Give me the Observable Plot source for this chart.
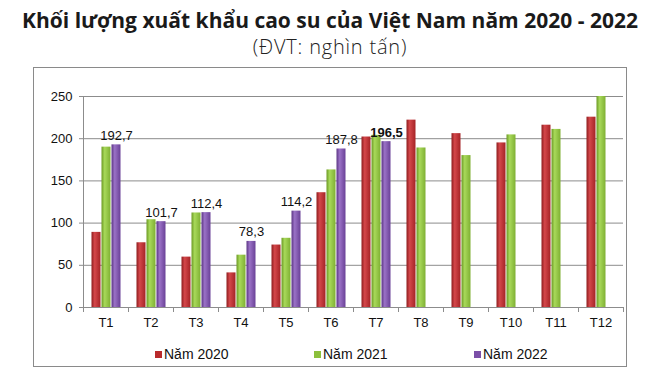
<!DOCTYPE html>
<html>
<head>
<meta charset="utf-8">
<script src="https://cdn.jsdelivr.net/npm/d3@7"></script>
<script src="https://cdn.jsdelivr.net/npm/@observablehq/plot@0.6"></script>
<style>
  html, body { margin: 0; padding: 0; background: #fff; }
  #page { position: relative; width: 660px; height: 371px; overflow: hidden; }
  #title { position: absolute; left: 0; top: 7px; width: 660px; text-align: center;
    font-family: "Open Sans", sans-serif; font-weight: 700; font-size: 21px; color: #1a1a1a; line-height: 26px; }
  #subtitle { position: absolute; left: 0; top: 34px; width: 660px; text-align: center;
    font-family: "Open Sans", sans-serif; font-weight: 300; font-size: 20px; letter-spacing: 0.8px; color: #222; line-height: 26px; }
  #box { position: absolute; left: 33px; top: 67px; width: 592px; height: 298px; border: 1px solid #8a8a8a; }
  #chart { position: absolute; left: 0; top: 0; }
  #legend { position: absolute; top: 278px; left: 0; width: 592px; height: 18px;
    font-family: "Liberation Sans", Arial, sans-serif; font-size: 14px; color: #111; }
  .item { position: absolute; top: 0; display: flex; align-items: center; white-space: nowrap; }
  .sw { width: 7px; height: 7px; margin-right: 2px; }
</style>
</head>
<body>
<div id="page">
  <div id="title">Khối lượng xuất khẩu cao su của Việt Nam năm 2020 - 2022</div>
  <div id="subtitle">(ĐVT: nghìn tấn)</div>
  <div id="box">
    <div id="chart"></div>
    <div id="legend"></div>
  </div>
</div>
<script>
const months = ["T1","T2","T3","T4","T5","T6","T7","T8","T9","T10","T11","T12"];
const years = ["Năm 2020","Năm 2021","Năm 2022"];
const v2020 = [89, 76.7, 59.7, 41, 74, 136, 202, 222, 206, 195, 216, 225.5];
const v2021 = [190, 104, 112, 62, 82, 163, 204, 189, 180, 204.5, 211, 250];
const v2022 = [192.7, 101.7, 112.4, 78.3, 114.2, 187.8, 196.5];
const yTicks = [0, 50, 100, 150, 200, 250];
const highlightMonth = "T7";

const colors = ["#b92a2c", "#8cc03c", "#7b4fa8"];
const gradIds = ["gRed", "gGreen", "gPurple"];

const data = [];
[v2020, v2021, v2022].forEach((arr, i) => {
  arr.forEach((v, j) => data.push({month: months[j], year: years[i], value: v}));
});
const labels = data.filter(d => d.year === years[2]);
const fmt = v => String(v).replace(".", ",");

const font = '"Liberation Sans", Arial, sans-serif';

const plot = Plot.plot({
  width: 592,
  height: 269,
  marginLeft: 46,
  marginRight: 1,
  marginTop: 28,
  marginBottom: 30,
  style: {fontFamily: font, fontSize: "13px", color: "#111", background: "transparent"},
  fx: {domain: months, paddingInner: 0, paddingOuter: 0, label: null, axis: null},
  x: {domain: years, paddingInner: 0, paddingOuter: 0.7, axis: null},
  y: {domain: [0, 250], axis: null},
  color: {domain: years, range: gradIds.map(id => `url(#${id})`)},
  marks: [
    Plot.ruleY(yTicks, {stroke: "#8c8c8c", strokeWidth: 1}),
    Plot.barY(data, {fx: "month", x: "year", y: "value", fill: "year", insetLeft: 0.5, insetRight: 0.5}),
    Plot.text(labels.filter(d => d.month !== highlightMonth), {fx: "month", x: "year", y: "value", text: d => fmt(d.value), lineAnchor: "bottom", dy: -5, fontSize: 13, fill: "#111"}),
    Plot.text(labels.filter(d => d.month === highlightMonth), {fx: "month", x: "year", y: "value", text: d => fmt(d.value), lineAnchor: "bottom", dy: -5, fontSize: 13, fontWeight: "bold", fill: "#111"}),
    Plot.axisY({ticks: yTicks, tickSize: 4, tickPadding: 7, stroke: "#8c8c8c", label: null, fontSize: 13, tickFormat: d => String(d)}),
    Plot.axisFx({anchor: "bottom", tickSize: 0, tickPadding: 10, label: null, fontSize: 13})
  ]
});

// gradients for bar shading
const svg = d3.select(plot);
const defs = svg.insert("defs", ":first-child");
const shades = [["#8e1c1e", "#d4474a", "#a52326"], ["#6c9a24", "#a8d95a", "#7fb033"], ["#5c3585", "#9a72c6", "#6a4197"]];
gradIds.forEach((id, i) => {
  const g = defs.append("linearGradient").attr("id", id).attr("x1", 0).attr("x2", 1).attr("y1", 0).attr("y2", 0);
  g.append("stop").attr("offset", "0%").attr("stop-color", shades[i][0]);
  g.append("stop").attr("offset", "35%").attr("stop-color", shades[i][1]);
  g.append("stop").attr("offset", "100%").attr("stop-color", shades[i][2]);
});

// left axis line and category tick marks (Excel style)
const fxS = plot.scale("fx");
const yS = plot.scale("y");
const y0 = yS.apply(0), yTop = yS.apply(250);
const g = svg.append("g").attr("stroke", "#8c8c8c").attr("stroke-width", 1);
const left = fxS.apply(months[0]);
g.append("line").attr("x1", left + 0.5).attr("x2", left + 0.5).attr("y1", yTop).attr("y2", y0 + 5);
const edges = months.map(m => fxS.apply(m)).concat([fxS.apply(months[months.length - 1]) + fxS.bandwidth]);
edges.forEach(x => g.append("line").attr("x1", Math.round(x) + 0.5).attr("x2", Math.round(x) + 0.5).attr("y1", y0).attr("y2", y0 + 5));
g.append("line").attr("x1", left).attr("x2", edges[edges.length - 1]).attr("y1", Math.round(y0) + 0.5).attr("y2", Math.round(y0) + 0.5);

document.getElementById("chart").appendChild(plot);

// legend
const legend = document.getElementById("legend");
const legendLeft = [121, 280, 440];
years.forEach((y, i) => {
  const it = document.createElement("div");
  it.className = "item";
  it.style.left = legendLeft[i] + "px";
  it.innerHTML = `<span class="sw" style="background:${colors[i]}"></span><span>${y}</span>`;
  legend.appendChild(it);
});
</script>
</body>
</html>
